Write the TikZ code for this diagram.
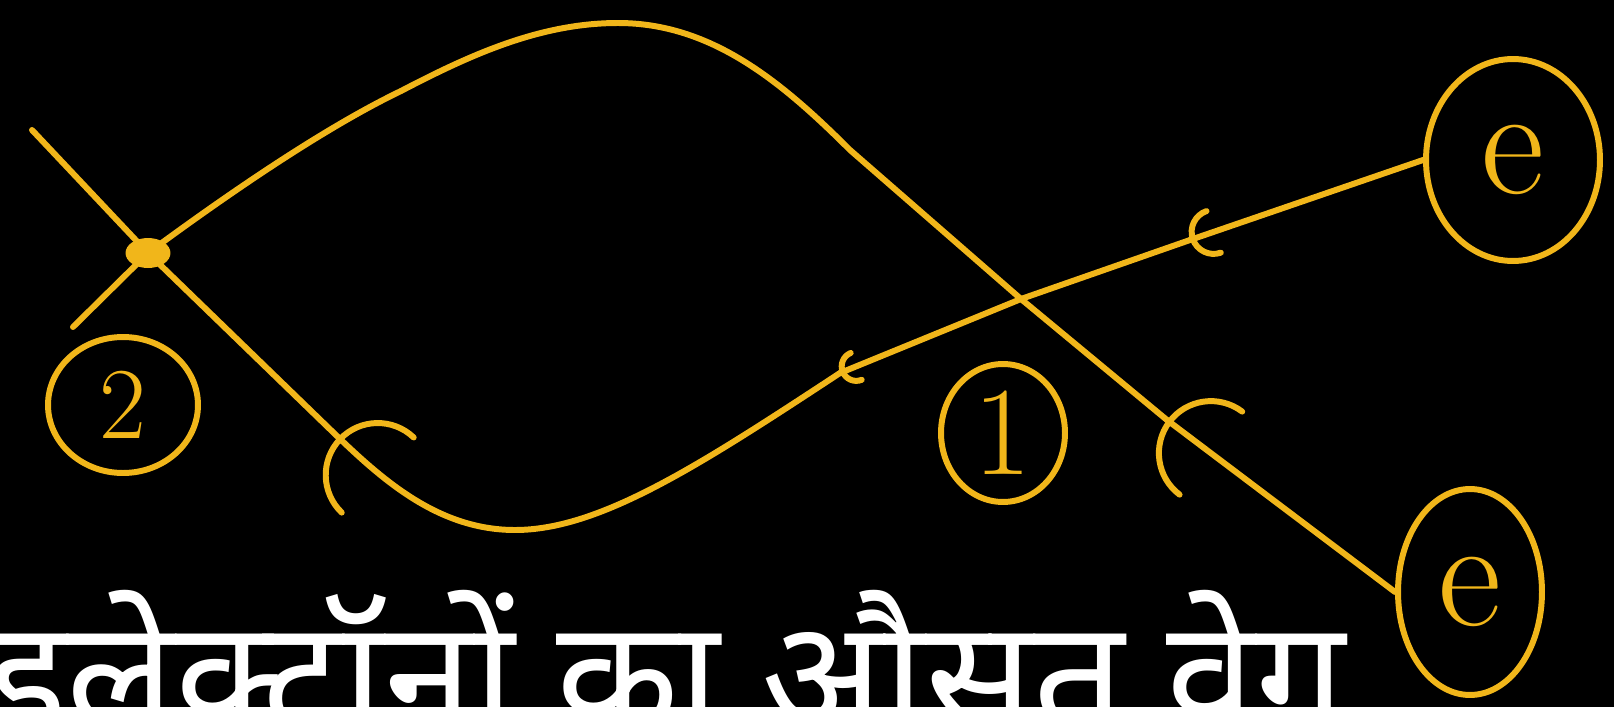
\documentclass[tikz,border=0pt]{standalone}
\usepackage{fontspec}
\usepackage{xcolor}
\usepackage{tikz}
\usetikzlibrary{arrows.meta,shapes.geometric,decorations.markings,positioning,calc}
\newfontfamily\hindifont[Script=Devanagari]{Noto Sans}
\definecolor{elec}{RGB}{241,182,26}

\begin{document}
\begin{tikzpicture}[
    x=0.02cm, y=-0.02cm,
    ebarb/.tip={Arc Barb[length=1.1cm, width=2.2cm, round]},
    ebarbmid/.tip={Arc Barb[length=0.5cm, width=1.0cm, round]},
    ebarbsmall/.tip={Arc Barb[length=0.35cm, width=0.7cm, round]},
    wire/.style={draw=elec, line width=3.4pt, line cap=round, 
        line join=round},
    tipat/.style={postaction={decorate}, decoration={markings, 
        mark=at position #1 with {\arrow{ebarb}}}},
    midtipat/.style={postaction={decorate}, decoration={markings, 
        mark=at position #1 with {\arrow{ebarbmid}}}},
    smalltipat/.style={postaction={decorate}, decoration={markings, 
        mark=at position #1 with {\arrow{ebarbsmall}}}},
    dot/.style={ellipse, fill=elec, minimum width=0.9cm, 
        minimum height=0.6cm, inner sep=0pt},
    ring/.style={ellipse, draw=elec, line width=3.4pt, text=elec, 
        inner sep=0pt},
    hindi/.style={text=white, inner sep=0pt, 
        font=\hindifont\fontsize{91}{91}\selectfont},
]

% ── Board ──
\useasboundingbox (0,0) rectangle (1614,707);
\fill[black] (0,0) rectangle (1614,707);
\clip (0,0) rectangle (1614,707);

% ── Crossing points ──
\node[dot] (x2) at (148,253) {};
\coordinate (x1) at (1021,299);

% ── Circled labels ──
\node[ring, minimum width=3.0cm, minimum height=2.72cm, 
    font=\fontsize{58}{58}\selectfont] (two) at (123,405) {2};
\node[ring, minimum width=2.48cm, minimum height=2.76cm, 
    font=\fontsize{72}{72}\selectfont] (one) at (1003,433) {1};
\node[ring, minimum width=3.48cm, minimum height=4.04cm, 
    font=\fontsize{88}{88}\selectfont] (etop) at (1513,160) {e};
\node[ring, minimum width=2.88cm, minimum height=4.12cm, 
    font=\fontsize{88}{88}\selectfont] (ebot) at (1470,592) {e};

% ── Free ends and arrow points ──
\coordinate (a0) at (32,130);
\coordinate (b0) at (73,327);
\coordinate (tA1) at (1190,240);
\coordinate (tA2) at (840,373);
\coordinate (bA) at (515,530);
\coordinate (tA3) at (338,437);
\coordinate (tB1) at (1167,420);
\coordinate (kB) at (850,150);
\coordinate (topB) at (618,23);
\coordinate (tB2) at (401,91);

% ── Path of the upper electron (lower loop) ──
\draw[wire, midtipat=1] (etop.west) -- (tA1);
\draw[wire] (tA1) -- (x1);
\draw[wire, smalltipat=1] (x1) -- (tA2);
\draw[wire, tipat=1] (tA2) .. controls (700,465) and (600,530) .. (bA) 
    .. controls (440,530) and (385,482) .. (tA3);
\draw[wire] (tA3) -- (x2.center) -- (a0);

% ── Path of the lower electron (upper loop) ──
\draw[wire, tipat=1] (ebot.west) -- (tB1);
\draw[wire, tipat=1] (tB1) -- (x1) -- (kB) 
    .. controls (780,80) and (710,23) .. (topB) 
    .. controls (540,23) and (470,55) .. (tB2);
\draw[wire] (tB2) .. controls (320,130) and (220,200) .. (x2.center) 
    -- (b0);

% ── Caption ──
\node[hindi, anchor=base west] (caption) at (-12,733) 
    {इलेक्ट्रॉनों का औसत वेग};

\end{tikzpicture}
\end{document}
